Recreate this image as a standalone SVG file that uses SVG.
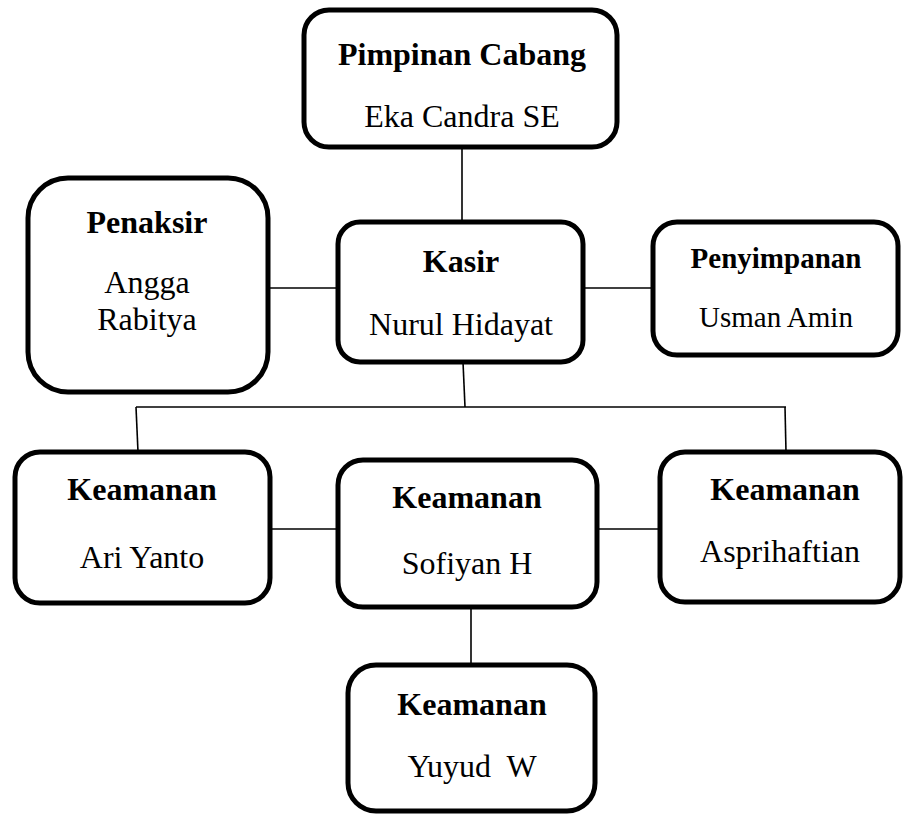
<svg xmlns="http://www.w3.org/2000/svg" width="903" height="814" viewBox="0 0 903 814">
<style>
.box{fill:#fff;stroke:#000;stroke-width:5}
.t{font-family:"Liberation Serif","Times New Roman",serif;font-size:32px;text-anchor:middle;fill:#000}
.b{font-weight:bold}
.s{font-size:29px}
.c line{stroke:#000;stroke-width:1.6}
</style>
<rect width="903" height="814" fill="#fff"/>
<g class="c" id="connectors">
<line x1="462" y1="147" x2="462" y2="222"/>
<line x1="268" y1="288" x2="338" y2="288"/>
<line x1="583" y1="288" x2="653" y2="288"/>
<line x1="463" y1="362" x2="465" y2="407"/>
<line x1="136" y1="407" x2="786" y2="407"/>
<line x1="136" y1="407" x2="138" y2="452"/>
<line x1="785" y1="407" x2="786" y2="452"/>
<line x1="270" y1="529" x2="338" y2="529"/>
<line x1="597" y1="529" x2="660" y2="529"/>
<line x1="471" y1="607" x2="471" y2="665"/>
</g>
<g id="pimpinan">
<rect class="box" x="304" y="10" width="313" height="137" rx="25"/>
<text class="t b" x="462" y="65">Pimpinan Cabang</text>
<text class="t" x="462" y="127">Eka Candra SE</text>
</g>
<g id="penaksir">
<rect class="box" x="28" y="178" width="240" height="214" rx="40"/>
<text class="t b" x="147" y="233">Penaksir</text>
<text class="t" x="147" y="293">Angga</text>
<text class="t" x="147" y="330">Rabitya</text>
</g>
<g id="kasir">
<rect class="box" x="338" y="222" width="245" height="140" rx="22"/>
<text class="t b" x="461" y="272">Kasir</text>
<text class="t" x="461" y="335">Nurul Hidayat</text>
</g>
<g id="penyimpanan">
<rect class="box" x="653" y="222" width="245" height="133" rx="24"/>
<text class="t s b" x="776" y="268">Penyimpanan</text>
<text class="t s" x="776" y="327">Usman Amin</text>
</g>
<g id="keamanan-ari">
<rect class="box" x="15" y="452" width="255" height="151" rx="25"/>
<text class="t b" x="142" y="500">Keamanan</text>
<text class="t" x="142" y="568">Ari Yanto</text>
</g>
<g id="keamanan-sofiyan">
<rect class="box" x="338" y="460" width="259" height="147" rx="25"/>
<text class="t b" x="467" y="508">Keamanan</text>
<text class="t" x="467" y="574">Sofiyan H</text>
</g>
<g id="keamanan-asprihaftian">
<rect class="box" x="660" y="452" width="240" height="150" rx="25"/>
<text class="t b" x="785" y="500">Keamanan</text>
<text class="t" x="780" y="562">Asprihaftian</text>
</g>
<g id="keamanan-yuyud">
<rect class="box" x="348" y="665" width="247" height="146" rx="28"/>
<text class="t b" x="472" y="715">Keamanan</text>
<text class="t" x="472" y="777" xml:space="preserve">Yuyud  W</text>
</g>
</svg>
